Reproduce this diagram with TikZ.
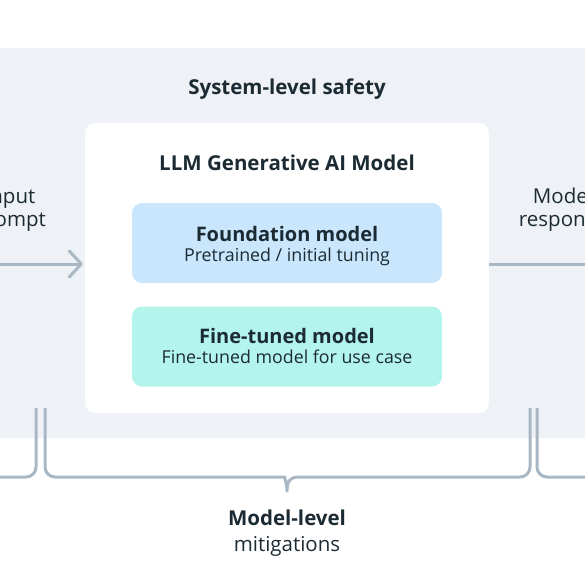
\documentclass[tikz,border=0pt]{standalone}
\usepackage{fontspec}
\setmainfont{Open Sans}
\usetikzlibrary{arrows.meta}
\definecolor{bggray}{HTML}{EEF2F6}
\definecolor{ink}{HTML}{1C2B33}
\definecolor{linegray}{HTML}{A8B7C3}
\definecolor{foundblue}{HTML}{C9E6FC}
\definecolor{tunemint}{HTML}{B3F4EC}
\begin{document}
\begin{tikzpicture}[x=1pt,y=-1pt,
  head/.style={text=ink,font=\bfseries\fontsize{20.5}{24}\selectfont,align=center},
  plain/.style={text=ink,font=\fontsize{20.5}{23}\selectfont,align=center},
  modelbox/.style={rounded corners=10pt,minimum width=310pt,minimum height=80pt},
  boxtitle/.style={anchor=base,text=ink,font=\bfseries\fontsize{20}{22}\selectfont},
  boxsub/.style={anchor=base,text=ink,font=\fontsize{17.8}{22}\selectfont},
  flow/.style={linegray,line width=3pt},
  bracket/.style={linegray,line width=3pt,rounded corners=10pt}]
\useasboundingbox (0,0) rectangle (585,585);
\fill[bggray] (0,48) rectangle (585,438);
\node[head] (sys) at (287,89) {System-level safety};
\node[fill=white,rounded corners=10pt,minimum width=404pt,minimum height=290pt] (llm) at (287,268) {};
\node[head] (llmtitle) at (287,163) {LLM Generative AI Model};
\node[modelbox,fill=foundblue] (found) at (287,243) {};
\node[boxtitle] (foundtitle) at (287,241) {Foundation model};
\node[boxsub] (foundsub) at (287,261) {Pretrained / initial tuning};
\node[modelbox,fill=tunemint] (tune) at (287,346.5) {};
\node[boxtitle] (tunetitle) at (287,343) {Fine-tuned model};
\node[boxsub] (tunesub) at (287,363) {Fine-tuned model for use case};
\node[plain] (input) at (10,210) {Input\\prompt};
\node[plain] (response) at (563,210) {Model\\response};
\coordinate (inL) at (0,264);
\coordinate (outR) at (585,264);
\draw[flow,-{Straight Barb[length=12pt,width=26pt,round]}] (inL) -- ([xshift=-2pt]llm.west |- inL);
\draw[flow] (llm.east |- outR) -- (outR);
\coordinate (brA) at (36,408);
\coordinate (brB) at (45,408);
\coordinate (tip) at (287,491);
\coordinate (brC) at (530,408);
\coordinate (brD) at (537,408);
\draw[bracket] (brA) |- (0,477);
\draw[bracket,line join=round] (brB) |- (275,477) [sharp corners] .. controls (283,477) and (287,480) .. (tip)
  .. controls (287,480) and (291,477) .. (299,477) [rounded corners=10pt] -| (brC);
\draw[bracket] (brD) |- (585,477);
\node[head] (modlvl) at (287,518) {Model-level};
\node[plain] (mitig) at (287,546) {mitigations};
\end{tikzpicture}
\end{document}
